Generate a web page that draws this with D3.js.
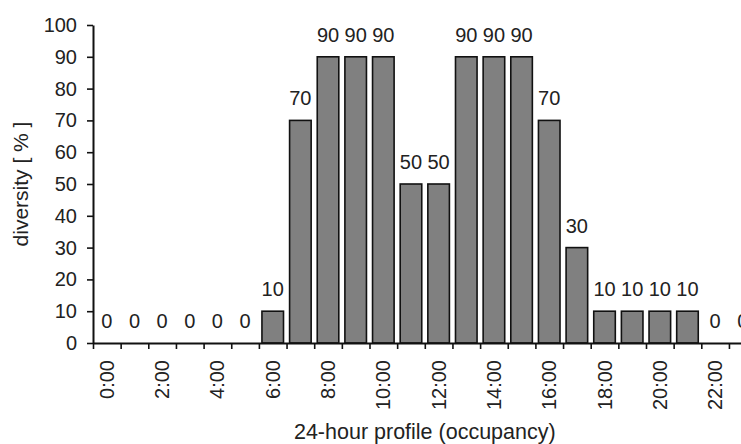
<!DOCTYPE html>
<html>
<head>
<meta charset="utf-8">
<script src="https://cdn.jsdelivr.net/npm/d3@7"></script>
<style>
  body { margin: 0; background: #fff; }
  text { font-family: "Liberation Sans", Arial, sans-serif; fill: #222; }
</style>
</head>
<body>
<div id="main"></div>
<script>
const ctx = { w: 741, h: 444 };
const margin = { top: 25, left: 93, bottom: 101 };
const STEP = 27.65;

// data
const hours = ["0:00","1:00","2:00","3:00","4:00","5:00","6:00","7:00","8:00","9:00","10:00","11:00",
               "12:00","13:00","14:00","15:00","16:00","17:00","18:00","19:00","20:00","21:00","22:00","23:00"];
const diversity = [0,0,0,0,0,0,10,70,90,90,90,50,50,90,90,90,70,30,10,10,10,10,0,0];
const yTicks = [0,10,20,30,40,50,60,70,80,90,100];
const xTickLabels = ["0:00","2:00","4:00","6:00","8:00","10:00","12:00","14:00","16:00","18:00","20:00","22:00"];

function createViz() {
    const svg = d3.select("#main").append("svg")
        .attr("width", ctx.w)
        .attr("height", ctx.h);

    const x = d3.scaleBand()
        .domain(hours)
        .range([margin.left, margin.left + STEP * hours.length])
        .padding(0);
    const xEdge = d3.scaleLinear()
        .domain([0, hours.length])
        .range(x.range());
    const y = d3.scaleLinear()
        .domain([0, 100])
        .range([ctx.h - margin.bottom, margin.top]);

    // bars
    const bw = x.bandwidth();
    svg.selectAll("rect.bar")
        .data(diversity)
        .enter().append("rect")
        .attr("class", "bar")
        .attr("x", (d, i) => x(hours[i]) + bw * 0.11)
        .attr("y", d => y(d))
        .attr("width", bw * 0.78)
        .attr("height", d => y(0) - y(d))
        .attr("fill", "#808080")
        .attr("stroke", d => d > 0 ? "#111" : "none")
        .attr("stroke-width", 1.6);

    // value labels
    svg.selectAll("text.val")
        .data(diversity)
        .enter().append("text")
        .attr("class", "val")
        .attr("x", (d, i) => x(hours[i]) + bw / 2)
        .attr("y", d => y(d) - 15)
        .attr("text-anchor", "middle")
        .style("font-size", "20px")
        .text(d => d);

    // y axis
    const yAxis = svg.append("g")
        .attr("transform", `translate(${margin.left},0)`)
        .call(d3.axisLeft(y).tickValues(yTicks).tickSize(6).tickPadding(10).tickSizeOuter(0));
    yAxis.selectAll("text").style("font-size", "20px").attr("fill", "#222");

    // x axis: ticks on category boundaries
    const xAxis = svg.append("g")
        .attr("transform", `translate(0,${y(0)})`)
        .call(d3.axisBottom(xEdge).tickValues(d3.range(0, hours.length + 1)).tickFormat("").tickSize(6).tickSizeOuter(0));

    [yAxis, xAxis].forEach(g => {
        g.select(".domain").attr("stroke", "#111").attr("stroke-width", 2);
        g.selectAll(".tick line").attr("stroke", "#111").attr("stroke-width", 1.6);
    });

    // rotated hour labels at band centres
    svg.selectAll("text.xlab")
        .data(xTickLabels)
        .enter().append("text")
        .attr("class", "xlab")
        .attr("transform", d => `translate(${x(d) + bw / 2},${y(0) + 17}) rotate(-90)`)
        .attr("text-anchor", "end")
        .attr("dy", "0.35em")
        .style("font-size", "20px")
        .text(d => d);

    // axis titles
    svg.append("text")
        .attr("x", (x.range()[0] + x.range()[1]) / 2)
        .attr("y", 439)
        .attr("text-anchor", "middle")
        .style("font-size", "21.5px")
        .text("24-hour profile (occupancy)");

    svg.append("text")
        .attr("transform", `translate(21,${(y(0) + y(100)) / 2}) rotate(-90)`)
        .attr("text-anchor", "middle")
        .attr("dy", "0.35em")
        .style("font-size", "21px")
        .text("diversity [ % ]");
}

createViz();
</script>
</body>
</html>
